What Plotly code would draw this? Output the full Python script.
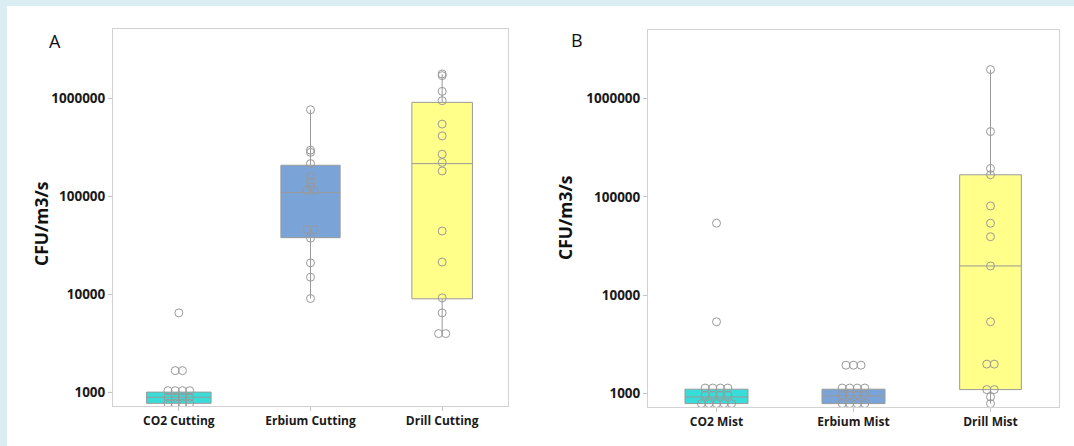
import plotly.graph_objects as go

# ---------------- data ----------------
cut_categories = ["CO2 Cutting", "Erbium Cutting", "Drill Cutting"]
mist_categories = ["CO2 Mist", "Erbium Mist", "Drill Mist"]
y_tick_values = [1000, 10000, 100000, 1000000]
y_tick_labels = ["1000", "10000", "100000", "1000000"]

co2_cutting = [6500, 1680, 1680, 1050, 1050, 1050, 1050, 900, 900, 900, 900,
               780, 780, 780, 780]
erbium_cutting = [760000, 295000, 280000, 215000, 159000, 140000, 125000,
                  115000, 115000, 46000, 46000, 37500, 21000, 15000, 9100]
drill_cutting = [1760000, 1690000, 1170000, 940000, 543000, 412000, 268000,
                 221000, 181000, 44300, 21400, 9250, 6500, 4000, 4000]

co2_mist = [54000, 5350, 1130, 1130, 1130, 1130, 955, 955, 955, 955,
            785, 785, 785, 785, 785]
erbium_mist = [1930, 1930, 1930, 1130, 1130, 1130, 1130, 955, 955, 955, 955,
               785, 785, 785, 785]
drill_mist = [1980000, 463000, 195000, 168000, 80900, 54000, 39300, 19800,
              5350, 1980, 1980, 1090, 1090, 917, 785]

# box statistics as drawn (q1, median, q3, lower whisker, upper whisker)
cut_q1 = [780, 37900, 9040]
cut_median = [900, 109000, 215000]
cut_q3 = [1015, 207000, 904000]
cut_lower = [780, 9100, 4000]
cut_upper = [1050, 760000, 1760000]

mist_q1 = [785, 785, 1090]
mist_median = [917, 940, 19800]
mist_q3 = [1100, 1100, 168000]
mist_lower = [785, 785, 785]
mist_upper = [1130, 1130, 1980000]

# ---------------- styling ----------------
W, H = 1074, 446
box_colors = ["#38dcd8", "#7aa4d8", "#ffff8a"]
cut_box_widths = [0.49, 0.45, 0.46]
mist_box_widths = [0.46, 0.46, 0.45]
FONT = "Open Sans"


def px_x(p):
    return p / W


def px_y(p):
    return 1 - p / H


def dodge(values, step=0.055):
    """spread repeated values side by side"""
    counts = {}
    for v in values:
        counts[v] = counts.get(v, 0) + 1
    seen = {}
    offs = []
    for v in values:
        n = counts[v]
        i = seen.get(v, 0)
        seen[v] = i + 1
        offs.append((i - (n - 1) / 2) * step)
    return offs


fig = go.Figure()

panels = [
    ("x", "y", [co2_cutting, erbium_cutting, drill_cutting],
     cut_q1, cut_median, cut_q3, cut_lower, cut_upper, cut_box_widths),
    ("x2", "y2", [co2_mist, erbium_mist, drill_mist],
     mist_q1, mist_median, mist_q3, mist_lower, mist_upper, mist_box_widths),
]

for xa, ya, groups, q1, med, q3, lo, hi, bw in panels:
    for i in range(3):
        fig.add_trace(go.Box(
            x=[i], q1=[q1[i]], median=[med[i]], q3=[q3[i]],
            lowerfence=[lo[i]], upperfence=[hi[i]],
            fillcolor=box_colors[i],
            line=dict(color="#9a9a9a", width=1),
            width=bw[i], whiskerwidth=0, boxpoints=False,
            showlegend=False, xaxis=xa, yaxis=ya, hoverinfo="skip",
        ))
    for i, vals in enumerate(groups):
        offs = dodge(vals)
        fig.add_trace(go.Scatter(
            x=[i + o for o in offs], y=vals, mode="markers",
            marker=dict(symbol="circle-open", size=8, color="#999999",
                        line=dict(width=1)),
            showlegend=False, xaxis=xa, yaxis=ya,
        ))

axis_common = dict(
    showline=True, mirror=True, linecolor="#d2d2d2", linewidth=1,
    ticks="outside", ticklen=4, tickcolor="#c4c4c4", tickwidth=1,
    showgrid=False, zeroline=False, automargin=False,
)

xfont = dict(family=FONT, size=12, color="#1a1a1a", weight=700)
yfont = dict(family=FONT, size=13.5, color="#1a1a1a", weight=700)

fig.update_layout(
    width=W, height=H,
    margin=dict(l=0, r=0, t=0, b=0),
    paper_bgcolor="#d9edf2",
    plot_bgcolor="#ffffff",
    xaxis=dict(domain=[px_x(113), px_x(508)], range=[-0.5, 2.5],
               tickvals=[0, 1, 2], ticktext=cut_categories, anchor="y",
               tickfont=xfont, **axis_common),
    yaxis=dict(domain=[px_y(406), px_y(29)], type="log",
               range=[2.865, 6.703], tickvals=y_tick_values,
               ticktext=y_tick_labels, anchor="x", tickfont=yfont,
               **axis_common),
    xaxis2=dict(domain=[px_x(648), px_x(1059)], range=[-0.5, 2.5],
                tickvals=[0, 1, 2], ticktext=mist_categories, anchor="y2",
                tickfont=xfont, **axis_common),
    yaxis2=dict(domain=[px_y(407), px_y(30)], type="log",
                range=[2.86, 6.70], tickvals=y_tick_values,
                ticktext=y_tick_labels, anchor="x2", tickfont=yfont,
                **axis_common),
    shapes=[dict(type="rect", xref="paper", yref="paper",
                 x0=px_x(7), x1=1.0, y0=0.0, y1=px_y(6),
                 fillcolor="#ffffff", line=dict(width=0), layer="below")],
    annotations=[
        dict(text="A", x=px_x(47), y=px_y(27), xref="paper", yref="paper",
             showarrow=False, font=dict(family=FONT, size=18, color="#111")),
        dict(text="B", x=px_x(577), y=px_y(26), xref="paper", yref="paper",
             showarrow=False, font=dict(family=FONT, size=18, color="#111")),
        dict(text="CFU/m3/s", x=px_x(27), y=px_y(224), xref="paper",
             yref="paper", showarrow=False, textangle=-90,
             font=dict(family=FONT, size=17.5, color="#111", weight=700)),
        dict(text="CFU/m3/s", x=px_x(565), y=px_y(218), xref="paper",
             yref="paper", showarrow=False, textangle=-90,
             font=dict(family=FONT, size=17.5, color="#111", weight=700)),
    ],
)

fig.write_html("out.html",
               config={"displayModeBar": False},
               post_script="document.body.style.margin='0';"
                           "document.body.style.overflow='hidden';")
